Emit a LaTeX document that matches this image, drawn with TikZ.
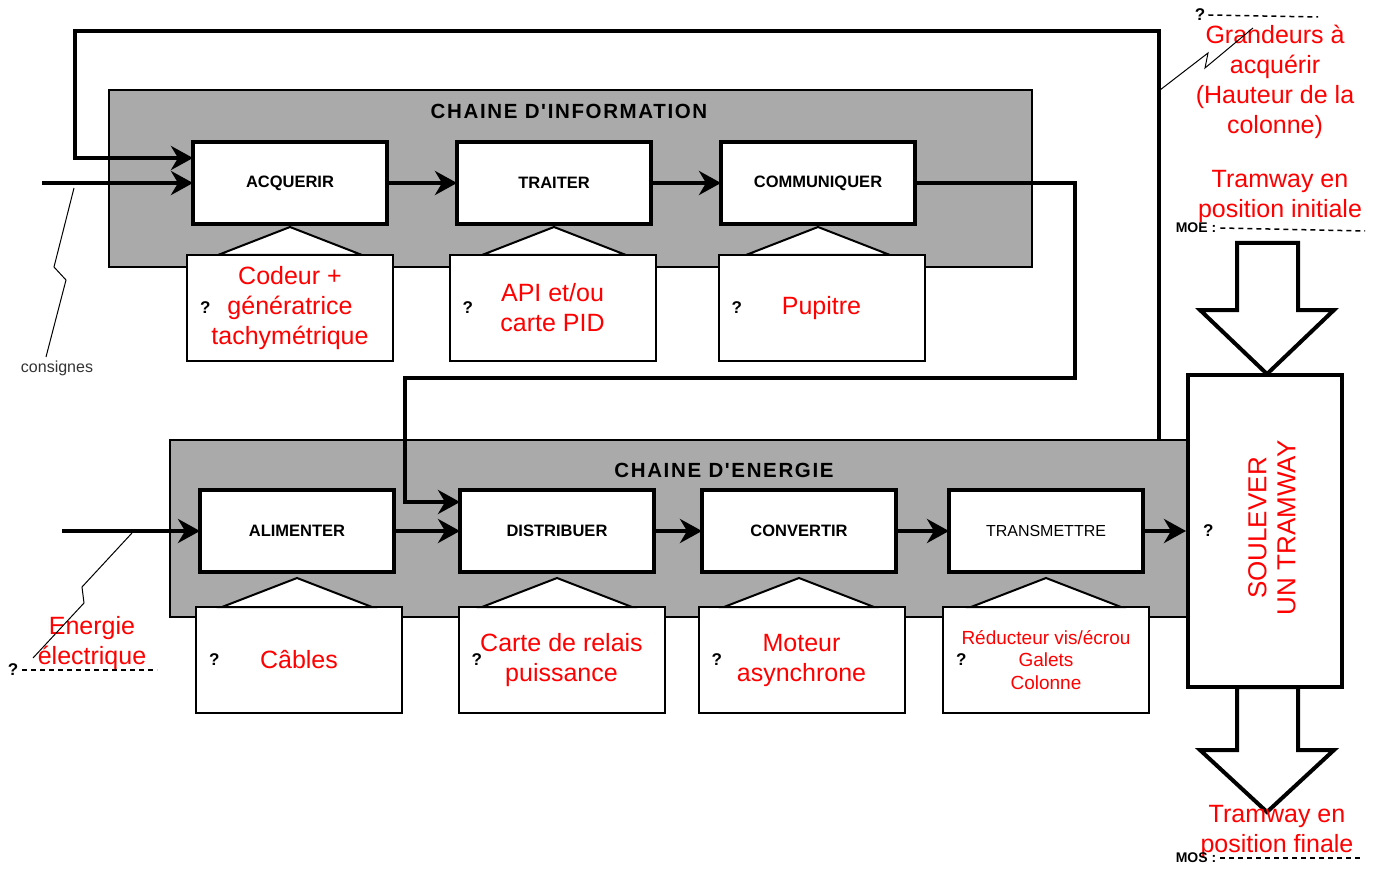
\documentclass[tikz,border=0pt]{standalone}
\usepackage{fontspec}
\usepackage{xcolor}
\setmainfont{Liberation Sans}
\newfontfamily\titrefont[LetterSpace=8]{Liberation Sans}
\definecolor{gris}{HTML}{AAAAAA}
\usetikzlibrary{arrows.meta,positioning,calc}

\begin{document}
\begin{tikzpicture}[x=1pt, y=-1pt,
    chaine/.style={rectangle, draw, line width=1.5pt, fill=gris},
    titre/.style={font=\titrefont\fontsize{20.5}{24}\selectfont\bfseries},
    fonction/.style={rectangle, draw, line width=4pt, fill=white, outer sep=0pt, minimum width=194pt, minimum height=82pt, font=\fontsize{16.5}{18}\selectfont\bfseries},
    support/.style={rectangle, draw, line width=2pt, fill=white, outer sep=0pt, minimum width=206pt, minimum height=106pt, align=center, text=red, font=\fontsize{25}{30}\selectfont},
    inconnu/.style={inner sep=0pt, font=\fontsize{17}{17}\selectfont\bfseries},
    flux/.style={line width=4pt, -{Stealth[length=22pt, width=24pt, inset=7pt]}},
    eclair/.style={line width=1pt},
    pointille/.style={line width=1.5pt, dash pattern=on 5pt off 4pt},
    rouge/.style={text=red, align=center, font=\fontsize{25}{30}\selectfont},
    fleche/.style={draw, line width=4pt, fill=white, line join=miter}]
  \useasboundingbox (0,0) rectangle (1382,869);

  % chaines
  \node[chaine, minimum width=923pt, minimum height=177pt] (info) at (570.5,178.5) {};
  \node[chaine, minimum width=1018pt, minimum height=177pt] (energie) at (679,528.5) {};
  \node[titre] (tinfo) at (569,111) {CHAINE D'INFORMATION};
  \node[titre] (tenergie) at (724,470) {CHAINE D'ENERGIE};

  % chaine d'information
  \node[fonction] (acq) at (290,183) {ACQUERIR};
  \node[fonction, right=70pt of acq] (trait) {TRAITER};
  \node[fonction, right=70pt of trait] (comm) {COMMUNIQUER};

  \node[support, below=31pt of acq] (codeur) {Codeur +\\génératrice\\tachymétrique};
  \node[support, below=31pt of trait, xshift=-1.5pt] (api) {API et/ou\\carte PID};
  \node[support, below=31pt of comm, xshift=3.5pt] (pupitre) {Pupitre};

  % chaine d'energie
  \node[fonction] (alim) at (297,531) {ALIMENTER};
  \node[fonction, right=66pt of alim] (distr) {DISTRIBUER};
  \node[fonction, right=48pt of distr] (conv) {CONVERTIR};
  \node[fonction, right=53pt of conv, font=\fontsize{16}{18}\selectfont] (trans) {TRANSMETTRE};

  \node[support, below=35pt of alim, xshift=2pt] (cables) {Câbles};
  \node[support, below=35pt of distr, xshift=4.5pt] (relais) {Carte de relais\\puissance};
  \node[support, below=35pt of conv, xshift=2.5pt] (moteur) {Moteur\\asynchrone};
  \node[support, below=35pt of trans, font=\fontsize{19}{22.5}\selectfont] (reduc) {Réducteur vis/écrou\\Galets\\Colonne};

  % triangles
  \foreach \f/\s in {acq/codeur, trait/api, comm/pupitre}
    \draw[line width=2pt, fill=white] ([yshift=-3pt]\f.south) -- ($(\f.south |- \s.north)+(-72,0)$) -- ($(\f.south |- \s.north)+(72,0)$) -- cycle;
  \foreach \f/\s in {alim/cables, distr/relais, conv/moteur, trans/reduc}
    \draw[line width=2pt, fill=white] ([yshift=-6pt]\f.south) -- ($(\f.south |- \s.north)+(-75,0)$) -- ($(\f.south |- \s.north)+(75,0)$) -- cycle;

  % inconnues
  \foreach \s in {codeur, api, pupitre, cables, relais, moteur, reduc}
    \node[inconnu, right=13pt of \s.west] {?};

  % effet
  \node[draw, line width=4pt, fill=white, minimum width=154pt, minimum height=312pt] (tram) at (1265,531) {};
  \node[rouge, rotate=90, font=\fontsize{26}{29}\selectfont] (ttram) at (1272,528) {SOULEVER\\UN TRAMWAY};
  \node[inconnu, right=17pt of tram.west] {?};
  \draw[fleche] (1237,243) -- (1298,243) -- (1298,310) -- (1334,310) -- (1267,374) -- (1200,310) -- (1237,310) -- cycle;
  \draw[fleche] (1237,687) -- (1298,687) -- (1298,750) -- (1334,750) -- (1267,812) -- (1200,750) -- (1237,750) -- cycle;

  % flux
  \coordinate (cons) at (42,183);
  \coordinate (elec) at (62,531);
  \draw[flux] (cons) -- (acq.west);
  \draw[flux] (acq) -- (trait);
  \draw[flux] (trait) -- (comm);
  \draw[flux] (comm.east) -| (1075,378) -| (405,502) -- ([yshift=29pt]distr.west);
  \draw[flux] ($(energie.north east)+(-30,0)$) -- ++(0,-408) -| (75,158) -- ([yshift=25pt]acq.west);
  \draw[flux] (elec) -- (alim.west);
  \draw[flux] (alim) -- (distr);
  \draw[flux] (distr) -- (conv);
  \draw[flux] (conv) -- (trans);
  \draw[flux] (trans) -- (tram.west |- trans.east);

  % textes exterieurs
  \node[font=\fontsize{16}{18}\selectfont, text=black!80] (consignes) at (57,368) {consignes};
  \draw[eclair] ($(cons)+(32,5)$) -- (54,267) -- (66,280) -- ([xshift=-11pt]consignes.north);

  \node[rouge] (telec) at (92,643) {Energie\\électrique};
  \draw[eclair] ($(elec)+(70,2)$) -- (82,587) -- (84,603) -- (33,658);
  \node[inconnu] (qelec) at (13,670) {?};
  \draw[pointille] ([xshift=4pt]qelec.east) -- ++(135,0);

  \node[rouge] (tgrand) at (1275,82) {Grandeurs à\\acquérir\\(Hauteur de la\\colonne)};
  \draw[eclair] (1160,90) -- (1208,53) -- (1205,68) -- (1253,28);
  \node[inconnu] (qgrand) at (1200,15) {?};
  \draw[pointille] ([xshift=3pt]qgrand.east) -- (1318,17);

  \node[rouge] (tinit) at (1280,196) {Tramway en\\position initiale};
  \node[inconnu, font=\fontsize{14}{14}\selectfont\bfseries] (moe) at (1196,228) {MOE :};
  \draw[pointille] ([xshift=4pt]moe.east) -- (1365,231);

  \node[rouge] (tfin) at (1277,831) {Tramway en\\position finale};
  \node[inconnu, font=\fontsize{14}{14}\selectfont\bfseries] (mos) at (1196,858) {MOS :};
  \draw[pointille] ([xshift=4pt]mos.east) -- (1362,858);
\end{tikzpicture}
\end{document}
